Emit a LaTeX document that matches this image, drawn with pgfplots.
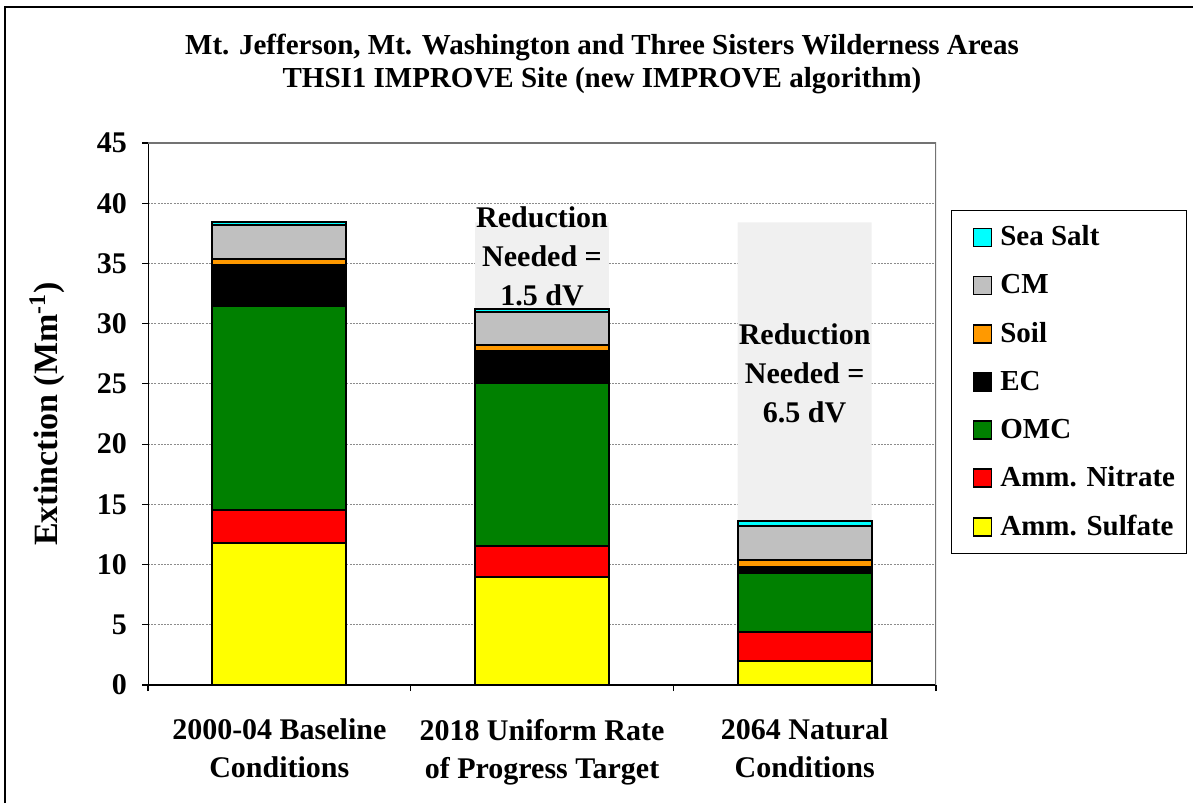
\documentclass[border=0pt]{standalone}
\usepackage{fontspec}
\setmainfont{Liberation Serif}
\usepackage{pgfplots}
\pgfplotsset{compat=1.18}
\definecolor{cSS}{RGB}{0,255,255}
\definecolor{cCM}{RGB}{192,192,192}
\definecolor{cSoil}{RGB}{255,153,0}
\definecolor{cEC}{RGB}{0,0,0}
\definecolor{cOMC}{RGB}{0,128,0}
\definecolor{cNit}{RGB}{255,0,0}
\definecolor{cSulf}{RGB}{255,255,0}
\begin{document}
\begin{tikzpicture}[x=1pt,y=1pt]
\useasboundingbox (0,0) rectangle (596.5,401.5);
\draw[line width=1pt] (2.5,0) -- (2.5,398) -- (596.5,398);
\node[font=\bfseries\fontsize{14.5}{16.5}\selectfont, align=center] at (301,369.5)
  {Mt. Jefferson, Mt. Washington and Three Sisters Wilderness Areas\\THSI1 IMPROVE Site (new IMPROVE algorithm)};
\begin{axis}[
  at={(74pt,59pt)}, anchor=south west, scale only axis,
  width=394pt, height=271pt,
  ymin=0, ymax=45, ytick={0,5,...,45},
  xmin=-0.5, xmax=2.5,
  xtick={-0.5,0.5,1.5,2.5}, xticklabels={},
  extra x ticks={0,1,2},
  extra x tick labels={{2000-04 Baseline\\Conditions},{2018 Uniform Rate\\of Progress Target},{2064 Natural\\Conditions}},
  extra x tick style={major tick length=0pt, grid=none},
  tick pos=left,
  tick align=outside, major tick length=3pt,
  tick style={black, line width=0.6pt},
  ymajorgrids, y grid style={black!45, line width=0.6pt, dash pattern=on 1pt off 0.6pt},
  axis line style={draw=none},
  ybar stacked, bar width=0.51,
  tick label style={font=\bfseries\fontsize{15}{19}\selectfont},
  /pgf/number format/assume math mode=true,
  xticklabel style={align=center, yshift=-13.5pt},
  yticklabel style={xshift=-4pt},
  ylabel={Extinction (Mm\textsuperscript{-1})},
  ylabel style={font=\bfseries\fontsize{17}{20}\selectfont, at={(axis description cs:-0.128,0.5)}, anchor=center},
  reverse legend,
  legend cell align=left,
  legend image code/.code={\path (0pt,0pt); \draw[#1, draw=black, line width=0.8pt] (7pt,-4.5pt) rectangle (16pt,4.5pt);},
  legend style={at={(1.019,0.876)}, anchor=north west, draw=black, line width=0.6pt,
    font=\bfseries\fontsize{14.5}{17}\selectfont, row sep=8.8pt, inner xsep=3.5pt, inner ysep=5.5pt,
    /tikz/every even column/.append style={column sep=0pt},
    /tikz/every odd column/.append style={column sep=2pt}},
]
\addplot[fill=cSulf, draw=black, line width=1pt] coordinates {(0,11.77) (1,8.99) (2,2.02)};
\addlegendentry{Amm. Sulfate}
\addplot[fill=cNit, draw=black, line width=1pt] coordinates {(0,2.76) (1,2.58) (2,2.35)};
\addlegendentry{Amm. Nitrate}
\addplot[fill=cOMC, draw=black, line width=1pt] coordinates {(0,16.96) (1,13.53) (2,4.96)};
\addlegendentry{OMC}
\addplot[fill=cEC, draw=black, line width=1pt] coordinates {(0,3.38) (1,2.66) (2,0.49)};
\addlegendentry{EC}
\addplot[fill=cSoil, draw=black, line width=1pt] coordinates {(0,0.48) (1,0.47) (2,0.56)};
\addlegendentry{Soil}
\addplot[fill=cCM, draw=black, line width=1pt] coordinates {(0,2.84) (1,2.77) (2,2.85)};
\addlegendentry{CM}
\addplot[fill=cSS, draw=black, line width=1pt] coordinates {(0,0.21) (1,0.22) (2,0.41)};
\addlegendentry{Sea Salt}
\addplot[fill=black!6, draw=none, forget plot] coordinates {(0,0) (1,7.18) (2,24.76)};
\coordinate (r1) at (axis cs:1,35.6);
\coordinate (r2) at (axis cs:2,25.9);
\draw[black!55, line width=0.8pt] (rel axis cs:0,1) -- (rel axis cs:1,1) -- (rel axis cs:1,0);
\draw[black, line width=0.8pt] (rel axis cs:0,1) -- (rel axis cs:0,0) -- (rel axis cs:1,0);
\end{axis}
\node[align=center, font=\bfseries\fontsize{15}{19.5}\selectfont] at (r1) {Reduction\\Needed =\\1.5 dV};
\node[align=center, font=\bfseries\fontsize{15}{19.5}\selectfont] at (r2) {Reduction\\Needed =\\6.5 dV};
\end{tikzpicture}
\end{document}
